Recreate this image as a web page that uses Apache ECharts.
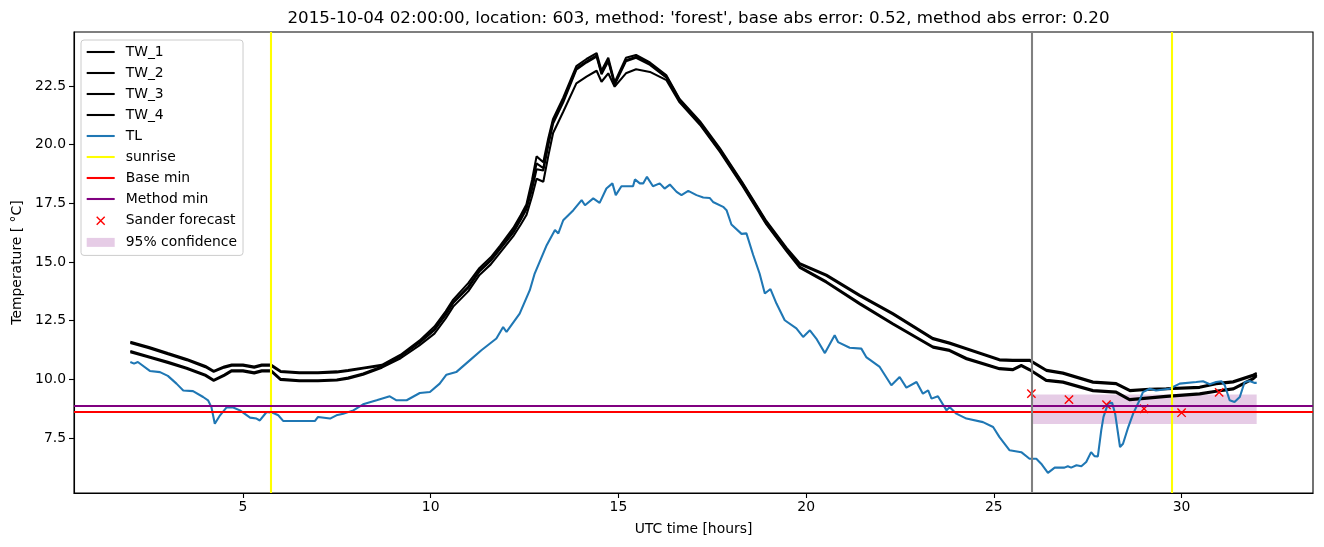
<!DOCTYPE html>
<html><head><meta charset="utf-8">
<script src="https://cdn.jsdelivr.net/npm/echarts@6/dist/echarts.min.js"></script>
<style>html,body{margin:0;padding:0;background:#fff}#c{width:1324px;height:547px}</style>
</head><body><div id="c"></div>
<script>
const titleText = "2015-10-04 02:00:00, location: 603, method: 'forest', base abs error: 0.52, method abs error: 0.20";
const xTicks = [5, 10, 15, 20, 25, 30];
const yTicks = [7.5, 10, 12.5, 15, 17.5, 20, 22.5];

const twTime = [2.0, 2.5, 3.0, 3.5, 4.0, 4.22, 4.5, 4.7, 5.0, 5.3, 5.5, 5.75,
  6.0, 6.5, 7.0, 7.5, 7.8, 8.2, 8.7,
  9.2, 9.7, 10.1, 10.4, 10.6, 11.0, 11.3, 11.6, 11.85,
  12.2, 12.4, 12.55, 12.7, 12.82, 13.0, 13.13, 13.26, 13.53, 13.88, 14.15, 14.42, 14.55, 14.73, 14.9, 15.2, 15.47, 15.84, 16.28, 16.63, 17.17, 17.7, 18.3, 18.94, 19.48, 19.83,
  20.54, 21.43, 22.31, 23.38, 23.82, 24.27, 25.15, 25.5, 25.73, 25.95,
  26.4, 26.84, 27.64, 28.26, 28.62, 29.15, 29.59, 30.48, 30.92, 31.37, 31.9, 32.0];

const tw1 = [11.60, 11.38, 11.12, 10.87, 10.57, 10.36, 10.55, 10.63, 10.63, 10.55, 10.63, 10.63,
  10.36, 10.30, 10.30, 10.34, 10.40, 10.50, 10.62,
  11.05, 11.65, 12.25, 12.90, 13.40, 14.10, 14.75, 15.20, 15.70,
  16.45, 17.00, 17.45, 18.50, 19.50, 19.25, 20.25, 21.10, 22.00, 23.35, 23.65, 23.90, 23.15, 23.70, 22.65, 23.70, 23.82, 23.50, 22.95, 21.95, 21.00, 19.85, 18.40, 16.75, 15.60, 14.95,
  14.46, 13.60, 12.82, 11.76, 11.57, 11.33, 10.86, 10.84, 10.84, 10.84,
  10.41, 10.29, 9.91, 9.84, 9.55, 9.60, 9.62, 9.69, 9.84, 9.92, 10.20, 10.27];

const tw2 = [11.55, 11.33, 11.07, 10.82, 10.52, 10.32, 10.50, 10.58, 10.58, 10.50, 10.58, 10.58,
  10.32, 10.26, 10.26, 10.30, 10.36, 10.46, 10.58,
  11.00, 11.60, 12.15, 12.80, 13.30, 13.95, 14.65, 15.10, 15.60,
  16.35, 16.90, 17.35, 18.30, 19.20, 19.00, 20.10, 21.00, 21.90, 23.25, 23.55, 23.80, 23.05, 23.60, 22.60, 23.60, 23.75, 23.45, 22.90, 21.90, 20.95, 19.80, 18.35, 16.70, 15.55, 14.90,
  14.41, 13.55, 12.77, 11.71, 11.52, 11.28, 10.81, 10.79, 10.79, 10.79,
  10.36, 10.24, 9.86, 9.79, 9.50, 9.56, 9.58, 9.64, 9.79, 9.87, 10.14, 10.22];

const tw3 = [11.21, 10.98, 10.75, 10.50, 10.20, 9.98, 10.20, 10.39, 10.39, 10.30, 10.39, 10.39,
  10.03, 9.96, 9.96, 9.99, 10.08, 10.25, 10.55,
  10.98, 11.55, 12.10, 12.75, 13.25, 13.90, 14.60, 15.05, 15.55,
  16.25, 16.80, 17.25, 18.10, 18.95, 18.90, 19.95, 20.90, 21.80, 23.20, 23.50, 23.75, 23.00, 23.55, 22.55, 23.55, 23.70, 23.40, 22.85, 21.85, 20.90, 19.75, 18.30, 16.65, 15.50, 14.80,
  14.17, 13.25, 12.39, 11.40, 11.26, 10.91, 10.48, 10.44, 10.62, 10.44,
  9.98, 9.91, 9.55, 9.48, 9.16, 9.24, 9.30, 9.41, 9.52, 9.62, 10.05, 10.19];

const tw4 = [11.16, 10.93, 10.70, 10.45, 10.15, 9.94, 10.15, 10.34, 10.34, 10.25, 10.34, 10.34,
  9.98, 9.92, 9.92, 9.95, 10.03, 10.20, 10.50,
  10.90, 11.45, 11.95, 12.60, 13.10, 13.75, 14.45, 14.90, 15.40,
  16.10, 16.60, 17.00, 17.80, 18.55, 18.42, 19.50, 20.50, 21.40, 22.61, 22.90, 23.15, 22.68, 23.04, 22.47, 23.04, 23.21, 23.10, 22.75, 21.80, 20.85, 19.70, 18.25, 16.60, 15.45, 14.75,
  14.12, 13.20, 12.34, 11.35, 11.21, 10.86, 10.43, 10.39, 10.57, 10.39,
  9.93, 9.86, 9.50, 9.43, 9.11, 9.19, 9.25, 9.36, 9.47, 9.57, 10.00, 10.14];

const tlPoints = [[2.0,10.74],[2.1,10.67],[2.2,10.74],[2.52,10.36],[2.79,10.31],[3.0,10.15],[3.23,9.82],[3.41,9.53],[3.67,9.5],[3.94,9.25],
  [4.07,9.11],[4.16,8.82],[4.25,8.11],[4.39,8.47],[4.57,8.82],[4.74,8.8],[4.92,8.68],[5.19,8.37],[5.36,8.33],[5.45,8.25],
  [5.63,8.61],[5.81,8.57],[5.94,8.47],[6.07,8.23],[6.92,8.23],[7.0,8.4],[7.32,8.33],[7.49,8.47],[7.67,8.54],[7.94,8.68],
  [8.2,8.94],[8.56,9.11],[8.91,9.28],[9.09,9.11],[9.36,9.11],[9.71,9.42],[9.98,9.46],[10.24,9.82],[10.42,10.2],[10.68,10.31],
  [11.04,10.81],[11.35,11.24],[11.75,11.74],[11.93,12.23],[12.02,12.02],[12.37,12.8],[12.64,13.8],[12.77,14.51],[13.09,15.72],[13.31,16.36],
  [13.4,16.22],[13.53,16.78],[13.8,17.21],[14.02,17.64],[14.11,17.42],[14.33,17.71],[14.5,17.52],[14.68,18.13],[14.84,18.35],[14.93,17.85],
  [15.08,18.23],[15.39,18.23],[15.44,18.52],[15.57,18.35],[15.66,18.35],[15.76,18.63],[15.92,18.23],[16.1,18.35],[16.23,18.13],[16.37,18.3],
  [16.55,17.99],[16.68,17.85],[16.86,18.03],[17.08,17.85],[17.26,17.75],[17.43,17.73],[17.52,17.56],[17.79,17.35],[17.88,17.21],[18.01,16.6],
  [18.28,16.2],[18.41,16.22],[18.59,15.3],[18.76,14.51],[18.9,13.66],[19.05,13.85],[19.21,13.23],[19.43,12.52],[19.74,12.17],[19.92,11.81],
  [20.1,12.09],[20.27,11.74],[20.5,11.12],[20.76,11.88],[20.85,11.59],[21.16,11.35],[21.47,11.31],[21.6,10.95],[21.96,10.53],[22.27,9.75],
  [22.49,10.1],[22.67,9.65],[22.94,9.89],[23.11,9.39],[23.25,9.53],[23.34,9.18],[23.51,9.28],[23.74,8.68],[23.82,8.82],[24.0,8.54],
  [24.27,8.33],[24.71,8.18],[24.98,7.97],[25.15,7.54],[25.42,6.98],[25.73,6.9],[25.95,6.62],[26.13,6.62],[26.26,6.41],[26.44,6.02],
  [26.62,6.24],[26.88,6.24],[26.97,6.3],[27.06,6.24],[27.2,6.34],[27.33,6.3],[27.46,6.48],[27.59,6.9],[27.68,6.73],[27.77,6.72],
  [27.86,7.83],[27.92,8.4],[27.97,8.33],[28.04,8.97],[28.15,9.0],[28.23,8.54],[28.36,7.12],[28.44,7.26],[28.58,7.97],[28.71,8.54],
  [28.88,9.11],[28.97,9.46],[29.15,9.6],[29.32,9.53],[29.68,9.6],[29.95,9.82],[30.39,9.89],[30.57,9.92],[30.75,9.79],[30.92,9.89],
  [31.06,9.92],[31.15,9.75],[31.28,9.11],[31.41,9.04],[31.55,9.25],[31.68,9.89],[31.81,9.93],[31.95,9.85],[32.0,9.85]];

const sanderTime = [26, 27, 28, 29, 30, 31];
const sanderValues = [9.39, 9.14, 8.92, 8.75, 8.58, 9.45];
const sunriseTimes = [5.74, 29.73];
const forecastTime = 26;
const baseMin = 8.61;
const methodMin = 8.89;
const confTime = [26, 32];
const confRange = [8.10, 9.36];

const FONT = 'DejaVu Sans';
const LW = 2.08;
const zip = (xs, ys) => xs.map((x, i) => [x, ys[i]]);
const lineIcon = 'path://M0,-7M34,7M0,-1.04H28V1.04H0Z';
const patchIcon = 'path://M0,-7M34,7M0,-4.5H28V4.5H0Z';
const xIcon = 'path://M0,-7M34,7M10,-4L18,4M18,-4L10,4';

function lineSeries(name, data, color) {
  return { name, type: 'line', data, symbol: 'none', showSymbol: false, z: 2,
    lineStyle: { color, width: LW }, itemStyle: { color }, emphasis: { disabled: true } };
}
function markLineSeries(name, color, items) {
  return { name, type: 'line', data: [], z: 2, itemStyle: { color },
    markLine: { silent: true, symbol: ['none', 'none'], label: { show: false },
      lineStyle: { color, width: LW, type: 'solid' }, emphasis: { disabled: true }, data: items } };
}

const chart = echarts.init(document.getElementById('c'), null, { renderer: 'canvas' });
chart.setOption({
  animation: false,
  backgroundColor: '#ffffff',
  title: { text: titleText, left: 693.5, top: 5, textAlign: 'center',
    textStyle: { fontFamily: FONT, fontSize: 16.7, fontWeight: 'normal', color: '#000' } },
  grid: { left: 74, right: 11, top: 32, bottom: 54, show: true, borderColor: '#000', borderWidth: 1.1, backgroundColor: 'transparent' },
  legend: {
    orient: 'vertical', left: 81, top: 40, padding: [5, 6, 6, 5], itemGap: 7, itemWidth: 34, itemHeight: 14,
    backgroundColor: 'rgba(255,255,255,0.8)', borderColor: '#cccccc', borderWidth: 1, borderRadius: 3,
    selectedMode: false,
    textStyle: { fontFamily: FONT, fontSize: 13.9, color: '#000', lineHeight: 14 },
    data: [
      { name: 'TW_1', icon: lineIcon, itemStyle: { color: '#000', borderWidth: 0 } },
      { name: 'TW_2', icon: lineIcon, itemStyle: { color: '#000', borderWidth: 0 } },
      { name: 'TW_3', icon: lineIcon, itemStyle: { color: '#000', borderWidth: 0 } },
      { name: 'TW_4', icon: lineIcon, itemStyle: { color: '#000', borderWidth: 0 } },
      { name: 'TL', icon: lineIcon, itemStyle: { color: '#1f77b4', borderWidth: 0 } },
      { name: 'sunrise', icon: lineIcon, itemStyle: { color: '#ffff00', borderWidth: 0 } },
      { name: 'Base min', icon: lineIcon, itemStyle: { color: '#ff0000', borderWidth: 0 } },
      { name: 'Method min', icon: lineIcon, itemStyle: { color: '#800080', borderWidth: 0 } },
      { name: 'Sander forecast', icon: xIcon, itemStyle: { color: 'transparent', borderColor: '#ff0000', borderWidth: 1.4 } },
      { name: '95% confidence', icon: patchIcon, itemStyle: { color: 'rgba(128,0,128,0.2)', borderWidth: 0 } }
    ]
  },
  xAxis: {
    type: 'value', min: 0.5, max: 33.5,
    name: 'UTC time [hours]', nameLocation: 'middle', nameGap: 29,
    nameTextStyle: { fontFamily: FONT, fontSize: 13.9, color: '#000' },
    axisLine: { show: true, onZero: false, lineStyle: { color: '#000', width: 1.1 } },
    axisTick: { show: true, length: 5, customValues: xTicks, lineStyle: { color: '#000', width: 1.1 } },
    axisLabel: { customValues: xTicks, margin: 7, fontFamily: FONT, fontSize: 13.9, color: '#000' },
    splitLine: { show: false }
  },
  yAxis: {
    type: 'value', min: 5.16, max: 24.8,
    name: 'Temperature [ \u00B0C]', nameLocation: 'middle', nameGap: 48,
    nameTextStyle: { fontFamily: FONT, fontSize: 13.9, color: '#000' },
    axisLine: { show: true, onZero: false, lineStyle: { color: '#000', width: 1.1 } },
    axisTick: { show: true, length: 5, customValues: yTicks, lineStyle: { color: '#000', width: 1.1 } },
    axisLabel: { customValues: yTicks, margin: 8, fontFamily: FONT, fontSize: 13.9, color: '#000',
      formatter: v => Number(v).toFixed(1) },
    splitLine: { show: false }
  },
  series: [
    { type: 'line', name: '95% confidence', data: [], z: 1, itemStyle: { color: 'rgba(128,0,128,0.2)' },
      markArea: { silent: true, itemStyle: { color: 'rgba(128,0,128,0.2)' }, label: { show: false },
        data: [[{ xAxis: confTime[0], yAxis: confRange[0] }, { xAxis: confTime[1], yAxis: confRange[1] }]] } },
    lineSeries('TW_1', zip(twTime, tw1), '#000000'),
    lineSeries('TW_2', zip(twTime, tw2), '#000000'),
    lineSeries('TW_3', zip(twTime, tw3), '#000000'),
    lineSeries('TW_4', zip(twTime, tw4), '#000000'),
    lineSeries('TL', tlPoints, '#1f77b4'),
    markLineSeries('sunrise', '#ffff00', sunriseTimes.map(t => ({ xAxis: t }))),
    markLineSeries('Base min', '#ff0000', [{ yAxis: baseMin }]),
    markLineSeries('Method min', '#800080', [{ yAxis: methodMin }]),
    markLineSeries('forecast', '#808080', [{ xAxis: forecastTime }]),
    { name: 'Sander forecast', type: 'scatter', data: zip(sanderTime, sanderValues), z: 3,
      symbol: 'path://M0,0L10,10M10,0L0,10', symbolSize: 8.3,
      itemStyle: { color: 'transparent', borderColor: '#ff0000', borderWidth: 1.4, opacity: 1 }, emphasis: { disabled: true } }
  ]
});
</script>
</body></html>
